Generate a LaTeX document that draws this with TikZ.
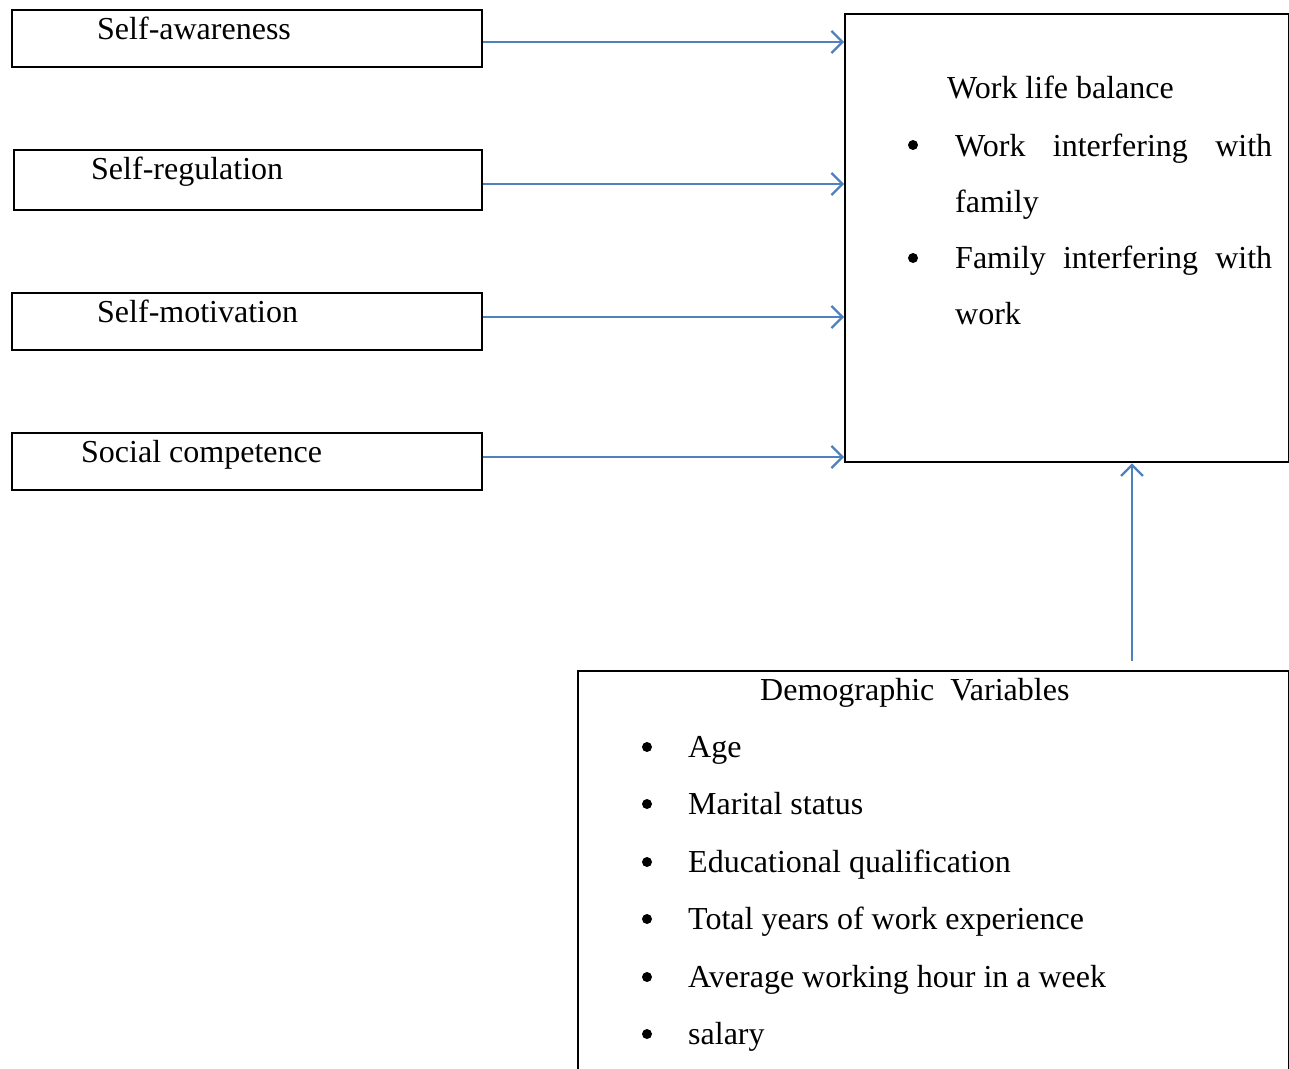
\documentclass[tikz,border=0pt]{standalone}
\usepackage{fontspec}
\setmainfont{Liberation Serif}
\usetikzlibrary{arrows.meta}
\definecolor{arrblue}{HTML}{4F81BD}
\begin{document}
\begin{tikzpicture}[x=1pt,y=-1pt,
  box/.style={draw=black,line width=2.3pt,inner sep=0pt,anchor=north west},
  lbl/.style={anchor=base west,inner sep=0pt,font=\fontsize{32}{56}\selectfont},
  bul/.style={circle,fill=black,inner sep=0pt,minimum size=10pt},
  arr/.style={draw=arrblue,line width=2.3pt,-{Straight Barb[length=11pt,width=22pt,line width=2.3pt]}}]
\useasboundingbox (0,0) rectangle (1289,1068);
\clip (0,0) rectangle (1289,1068);

% left boxes
\node[box,minimum width=470pt,minimum height=57pt] (sa) at (11,9) {};
\node[box,minimum width=468pt,minimum height=60pt] (sr) at (13,149) {};
\node[box,minimum width=470pt,minimum height=57pt] (sm) at (11,292) {};
\node[box,minimum width=470pt,minimum height=57pt] (sc) at (11,432) {};
\node[lbl] (tsa) at (97,39) {Self-awareness};
\node[lbl] (tsr) at (91,179) {Self-regulation};
\node[lbl] (tsm) at (97,322) {Self-motivation};
\node[lbl] (tsc) at (81,462) {Social competence};

% work life balance box
\node[box,minimum width=444pt,minimum height=448pt] (wlb) at (844,13) {};
\node[lbl] (twlb) at (947,98) {Work life balance};
\node[bul] (wb1) at (913,145) {};
\node[lbl] (w1) at (955,156) {\hbox to 317pt{Work\hfill interfering\hfill with}};
\node[lbl] (w2) at (955,212) {family};
\node[bul] (wb2) at (913,258) {};
\node[lbl] (w3) at (955,268) {\hbox to 317pt{Family\hfill interfering\hfill with}};
\node[lbl] (w4) at (955,324) {work};

% demographic box
\node[box,minimum width=711pt,minimum height=500pt] (demo) at (577,670) {};
\node[lbl] (tdemo) at (760,700) {Demographic\ \ Variables};
\node[bul] (db1) at (647,747) {};
\node[lbl] (d1) at (688,757) {Age};
\node[bul] (db2) at (647,804) {};
\node[lbl] (d2) at (688,814) {Marital status};
\node[bul] (db3) at (647,862) {};
\node[lbl] (d3) at (688,872) {Educational qualification};
\node[bul] (db4) at (647,919) {};
\node[lbl] (d4) at (688,929) {Total years of work experience};
\node[bul] (db5) at (647,977) {};
\node[lbl] (d5) at (688,987) {Average working hour in a week};
\node[bul] (db6) at (647,1034) {};
\node[lbl] (d6) at (688,1044) {salary};

% arrows
\coordinate (y1) at (0,42);
\coordinate (y2) at (0,184);
\coordinate (y3) at (0,317);
\coordinate (y4) at (0,457);
\draw[arr] (sa.east |- y1) -- (wlb.west |- y1);
\draw[arr] (sr.east |- y2) -- (wlb.west |- y2);
\draw[arr] (sm.east |- y3) -- (wlb.west |- y3);
\draw[arr] (sc.east |- y4) -- (wlb.west |- y4);
\coordinate (vs) at (1132,661);
\draw[arr] (vs) -- (vs |- wlb.south);
\end{tikzpicture}
\end{document}
